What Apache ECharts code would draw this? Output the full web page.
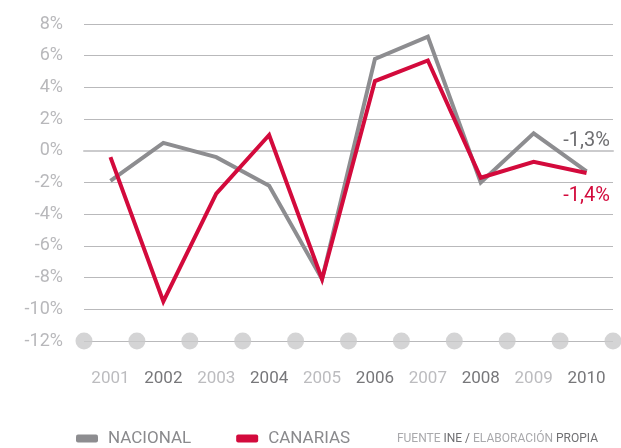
<!DOCTYPE html>
<html>
<head>
<meta charset="utf-8">
<script src="https://cdn.jsdelivr.net/npm/echarts@6/dist/echarts.min.js"></script>
<style>
  html, body { margin: 0; padding: 0; background: #fff; }
  #chart { width: 621px; height: 448px; }
</style>
</head>
<body>
<div id="chart"></div>
<script>
const years = ['2001', '2002', '2003', '2004', '2005', '2006', '2007', '2008', '2009', '2010'];
const nacional = [-1.9, 0.5, -0.4, -2.2, -8.1, 5.8, 7.2, -2.0, 1.1, -1.3];
const canarias = [-0.4, -9.5, -2.7, 1.0, -8.1, 4.4, 5.7, -1.7, -0.7, -1.4];
const endLabels = ['-1,3%', '-1,4%'];
// boundaries between years, where the grey dots sit on the base line
const dotSlots = [0, 1, 2, 3, 4, 5, 6, 7, 8, 9, 10];
const yTicks = { min: -12, max: 8, step: 2 };

const GREY = '#8d8d90';
const RED = '#d30a3c';
const FONT = 'Roboto';

function withEndLabel(values, text, pos, color, dist) {
  return values.map(function (v, i) {
    if (i !== values.length - 1) return v;
    return {
      value: v,
      label: {
        show: true,
        position: pos,
        distance: dist,
        formatter: text,
        color: color,
        fontFamily: FONT,
        fontSize: 20
      }
    };
  });
}

const chart = echarts.init(document.getElementById('chart'));
chart.setOption({
  animation: false,
  textStyle: { fontFamily: FONT },
  grid: { left: 84, right: 8, top: 24, bottom: 107 },
  legend: {
    left: 76,
    top: 430,
    padding: 0,
    icon: 'roundRect',
    itemWidth: 22,
    itemHeight: 8,
    itemGap: 45,
    textStyle: { color: '#8a8a8d', fontSize: 17, fontFamily: FONT, padding: [0, 0, 0, 5] },
    data: ['NACIONAL', 'CANARIAS']
  },
  xAxis: [
    {
      type: 'category',
      data: years,
      boundaryGap: true,
      axisLine: { show: true, lineStyle: { color: '#cbcbcd', width: 2 } },
      axisTick: { show: false },
      splitLine: { show: false },
      axisLabel: {
        margin: 29,
        fontSize: 17,
        fontFamily: FONT,
        color: function (value, index) {
          return index % 2 === 0 ? '#bcbcbf' : '#77777a';
        }
      }
    },
    {
      type: 'value',
      min: 0,
      max: 10,
      show: false
    }
  ],
  yAxis: {
    type: 'value',
    min: yTicks.min,
    max: yTicks.max,
    interval: yTicks.step,
    axisLine: { show: false },
    axisTick: { show: false },
    axisLabel: {
      margin: 21,
      fontSize: 18,
      fontFamily: FONT,
      color: '#b8b8bb',
      formatter: function (v) { return v + '%'; }
    },
    splitLine: { show: true, lineStyle: { color: '#b9b9bb', width: 1.2 } }
  },
  series: [
    {
      type: 'scatter',
      xAxisIndex: 1,
      symbolSize: 17,
      itemStyle: { color: '#c9c9cb' },
      data: dotSlots.map(function (s) { return [s, yTicks.min]; }),
      z: 1
    },
    {
      name: 'NACIONAL',
      type: 'line',
      symbol: 'circle',
      symbolSize: 0,
      showSymbol: true,
      lineStyle: { color: GREY, width: 4, join: 'miter' },
      itemStyle: { color: GREY },
      data: withEndLabel(nacional, endLabels[0], 'top', '#6e6e71', 20),
      z: 3
    },
    {
      name: 'CANARIAS',
      type: 'line',
      symbol: 'circle',
      symbolSize: 0,
      showSymbol: true,
      lineStyle: { color: RED, width: 4, join: 'miter' },
      itemStyle: { color: RED },
      data: withEndLabel(canarias, endLabels[1], 'bottom', RED, 13),
      z: 4
    }
  ],
  graphic: [
    {
      type: 'text',
      right: 23,
      top: 433,
      style: {
        text: '{l|FUENTE }{d|INE / }{l|ELABORACIÓN }{d|PROPIA}',
        rich: {
          l: { fill: '#a9a9ac', fontSize: 12, fontFamily: FONT },
          d: { fill: '#6f6f72', fontSize: 12, fontFamily: FONT }
        }
      }
    }
  ]
});
</script>
</body>
</html>
